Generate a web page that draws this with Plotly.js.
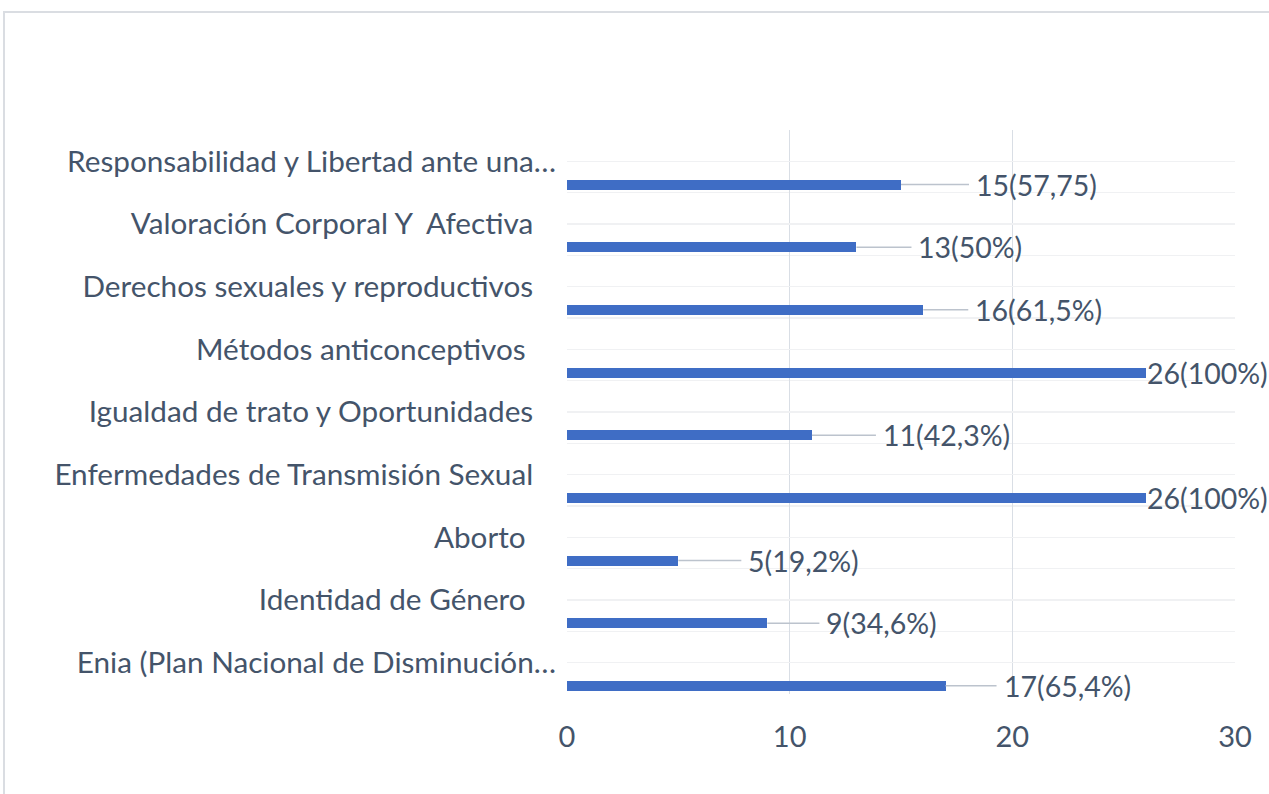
<!DOCTYPE html>
<html>
<head>
<meta charset="utf-8">
<script src="https://cdn.plot.ly/plotly-3.0.1.min.js"></script>
<style>
  html, body { margin: 0; padding: 0; background: #ffffff; }
  #wrap { position: relative; width: 1269px; height: 794px; overflow: hidden; }
  #chart { position: absolute; left: 0; top: 0; width: 1269px; height: 794px; }
  #frame { position: absolute; left: 3px; top: 11px; width: 1400px; height: 900px;
           border-left: 2px solid #dadde2; border-top: 2px solid #dadde2; pointer-events: none; }
</style>
</head>
<body>
<div id="wrap">
  <div id="chart"></div>
  <div id="frame"></div>
</div>
<script>
// Categories, bottom to top (as drawn)
const categories = [
  "Enia (Plan Nacional de Disminución…",
  "Identidad de Género ",
  "Aborto ",
  "Enfermedades de Transmisión Sexual",
  "Igualdad de trato y Oportunidades",
  "Métodos anticonceptivos ",
  "Derechos sexuales y reproductivos",
  "Valoración Corporal Y  Afectiva",
  "Responsabilidad y Libertad ante una…"
];
const counts = [17, 9, 5, 26, 11, 26, 16, 13, 15];
const pctLabels = ["65,4%", "34,6%", "19,2%", "100%", "42,3%", "100%", "61,5%", "50%", "57,75"];

// Layout-only settings: pixel distance of each data label from its bar end (leader line length)
const labelShiftPx = [57, 58, 69, 0, 70, 0, 51, 61, 74];

const textColor = "#44546A";
const fontFam = "Lato, 'Open Sans', sans-serif";

const positions = categories.map((c, i) => i);
const tickText = categories.map(c => {
  let t = c.replace(/  /g, " \u00a0").replace(/ +$/, m => "\u00a0".repeat(m.length));
  if (!c.endsWith("…")) t += "\u00a0\u00a0\u00a0";
  return t;
});

const trace = {
  type: "bar",
  orientation: "h",
  x: counts,
  y: positions,
  offset: -0.45,
  width: 0.16,
  marker: { color: "#3F6DC5", line: { width: 0 } },
  hoverinfo: "x+text",
  text: categories,
  textposition: "none"
};

const annotations = counts.map((v, i) => ({
  x: v,
  y: positions[i] - 0.37,
  xref: "x",
  yref: "y",
  text: v + "(" + pctLabels[i] + ")",
  showarrow: labelShiftPx[i] > 0,
  arrowhead: 0,
  arrowwidth: 1.5,
  arrowcolor: "#BCC3CD",
  standoff: 0,
  startstandoff: 6,
  ax: labelShiftPx[i],
  ay: 0,
  xanchor: "left",
  yanchor: "middle",
  borderpad: 0,
  font: { family: fontFam, size: 28.5, color: textColor }
}));

const layout = {
  width: 1269,
  height: 794,
  margin: { l: 567, r: 34, t: 130, b: 100, pad: 0 },
  paper_bgcolor: "#ffffff",
  plot_bgcolor: "#ffffff",
  showlegend: false,
  bargap: 0,
  xaxis: {
    range: [0, 30],
    tickvals: [0, 10, 20, 30],
    ticks: "",
    showgrid: true,
    gridcolor: "#d9dee5",
    gridwidth: 1.5,
    zeroline: false,
    showline: false,
    ticklabelstandoff: 23,
    tickfont: { family: fontFam, size: 29, color: textColor },
    fixedrange: true
  },
  yaxis: {
    range: [-0.5, 8.5],
    tickmode: "array",
    tickvals: positions,
    ticktext: tickText,
    ticks: "",
    showgrid: true,
    gridcolor: "#f0f1f3",
    gridwidth: 1.5,
    zeroline: false,
    showline: false,
    ticklabelstandoff: 10,
    minor: { tickmode: "linear", tick0: -0.5, dtick: 0.5, showgrid: true, gridcolor: "#f0f1f3", gridwidth: 1.5, ticks: "" },
    tickfont: { family: fontFam, size: 29.7, color: textColor },
    fixedrange: true
  },
  annotations: annotations
};

Plotly.newPlot("chart", [trace], layout, { displayModeBar: false, staticPlot: true });
</script>
</body>
</html>
